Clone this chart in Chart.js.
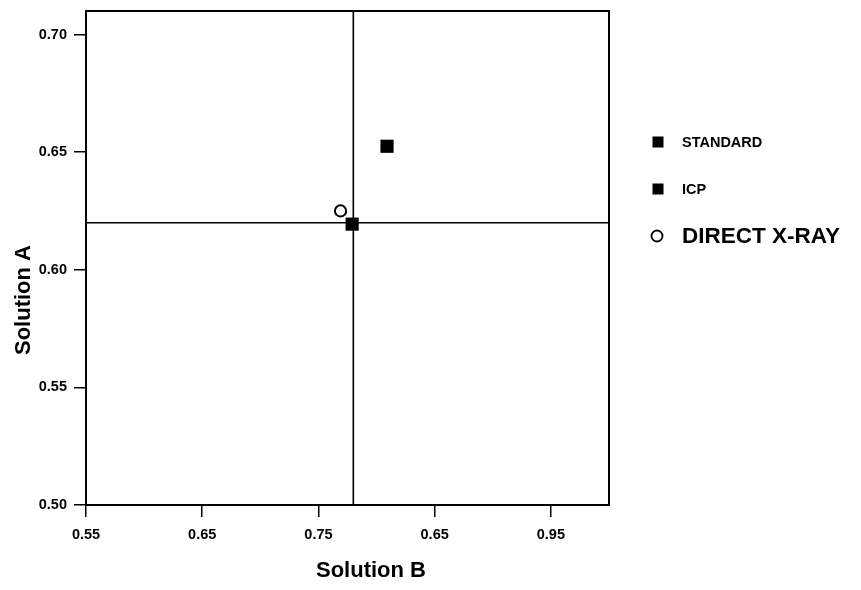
<!DOCTYPE html>
<html>
<head>
<meta charset="utf-8">
<script src="https://cdn.jsdelivr.net/npm/chart.js@4/dist/chart.umd.min.js"></script>
<style>
  html, body { margin: 0; padding: 0; background: #fff; }
  #wrap { width: 861px; height: 590px; }
</style>
</head>
<body>
<div id="wrap"><canvas id="canvas1" width="861" height="590"></canvas></div>
<script>
// data
const seriesNames = ['STANDARD', 'ICP', 'DIRECT X-RAY']
const solutionB = [0.809, 0.779, 0.769]
const solutionA = [0.6525, 0.6194, 0.625]
const refB = 0.780   // vertical line
const refA = 0.620   // horizontal line
const xTicks = [0.55, 0.65, 0.75, 0.85, 0.95]
const xTickLabels = ['0.55', '0.65', '0.75', '0.65', '0.95']
const yTicks = [0.50, 0.55, 0.60, 0.65, 0.70]
const yTickLabels = ['0.50', '0.55', '0.60', '0.65', '0.70']
const xTitle = 'Solution B'
const yTitle = 'Solution A'

const ctx = document.getElementById('canvas1').getContext('2d')
const font = 'Liberation Sans, Arial, sans-serif'

const pointStyles = ['rect', 'rect', 'circle']
const pointSizes = [9.3, 9.3, 5.6]

const datasets = []
for (let i = 0; i < seriesNames.length; i++) {
  datasets.push({
    label: seriesNames[i],
    data: [{ x: solutionB[i], y: solutionA[i] }],
    pointStyle: pointStyles[i],
    pointRadius: pointSizes[i],
    backgroundColor: i == 2 ? '#fff' : '#000',
    borderColor: '#000',
    borderWidth: i == 2 ? 2 : 0,
    order: 0
  })
}
datasets.push({
  label: 'refB', type: 'line',
  data: [{ x: refB, y: 0.50 }, { x: refB, y: 0.71 }],
  borderColor: '#000', borderWidth: 1.6, pointRadius: 0, order: 5
})
datasets.push({
  label: 'refA', type: 'line',
  data: [{ x: 0.55, y: refA }, { x: 1.0, y: refA }],
  borderColor: '#000', borderWidth: 1.6, pointRadius: 0, order: 5
})

const legendFonts = ['bold 14.5px ' + font, 'bold 14.5px ' + font, 'bold 22.5px ' + font]
const legendY = [142, 189, 236]

const framePlugin = {
  id: 'frame',
  afterDraw(chart) {
    const a = chart.chartArea
    const c = chart.ctx
    c.save()
    c.strokeStyle = '#000'
    c.lineWidth = 2
    c.strokeRect(a.left, a.top, a.right - a.left, a.bottom - a.top)

    // axis titles
    c.fillStyle = '#000'
    c.font = 'bold 22px ' + font
    c.textAlign = 'center'
    c.textBaseline = 'middle'
    c.fillText(xTitle, 371, 571)
    c.save()
    c.translate(24, 300)
    c.rotate(-Math.PI / 2)
    c.fillText(yTitle, 0, 0)
    c.restore()

    // legend
    for (let i = 0; i < seriesNames.length; i++) {
      const y = legendY[i]
      c.fillStyle = '#000'
      if (pointStyles[i] == 'rect') {
        c.fillRect(652.5, y - 5.5, 11, 11)
      } else {
        c.beginPath()
        c.arc(657, y, 5.5, 0, Math.PI * 2)
        c.fillStyle = '#fff'
        c.fill()
        c.lineWidth = 1.8
        c.stroke()
      }
      c.fillStyle = '#000'
      c.font = legendFonts[i]
      c.textBaseline = 'middle'
      c.textAlign = 'left'
      c.fillText(seriesNames[i], 682, y + 1)
    }
    c.restore()
  }
}

new Chart(ctx, {
  type: 'scatter',
  data: { datasets },
  plugins: [framePlugin],
  options: {
    responsive: false,
    animation: false,
    layout: { padding: { top: 11, right: 252, left: 0, bottom: 0 } },
    plugins: { legend: { display: false }, tooltip: { enabled: false } },
    scales: {
      x: {
        type: 'linear', min: 0.55, max: 1.0,
        afterBuildTicks: s => { s.ticks = xTicks.map(v => ({ value: v })) },
        afterFit: s => { s.height = 85; s.paddingLeft = 0; s.paddingRight = 0 },
        ticks: {
          color: '#000', padding: 9,
          font: { family: font, size: 14.5, weight: 'bold' },
          callback: (v, i) => xTickLabels[i]
        },
        grid: { display: true, drawOnChartArea: false, drawTicks: true, tickLength: 12, color: '#000', lineWidth: 1.5 },
        border: { display: true, color: '#000', width: 2 }
      },
      y: {
        type: 'linear', min: 0.50, max: 0.71,
        afterBuildTicks: s => { s.ticks = yTicks.map(v => ({ value: v })) },
        afterFit: s => { s.width = 86; s.paddingTop = 0; s.paddingBottom = 0 },
        ticks: {
          color: '#000', padding: 7,
          font: { family: font, size: 14.5, weight: 'bold' },
          callback: (v, i) => yTickLabels[i]
        },
        grid: { display: true, drawOnChartArea: false, drawTicks: true, tickLength: 12, color: '#000', lineWidth: 1.5 },
        border: { display: true, color: '#000', width: 2 }
      }
    }
  }
})
</script>
</body>
</html>
